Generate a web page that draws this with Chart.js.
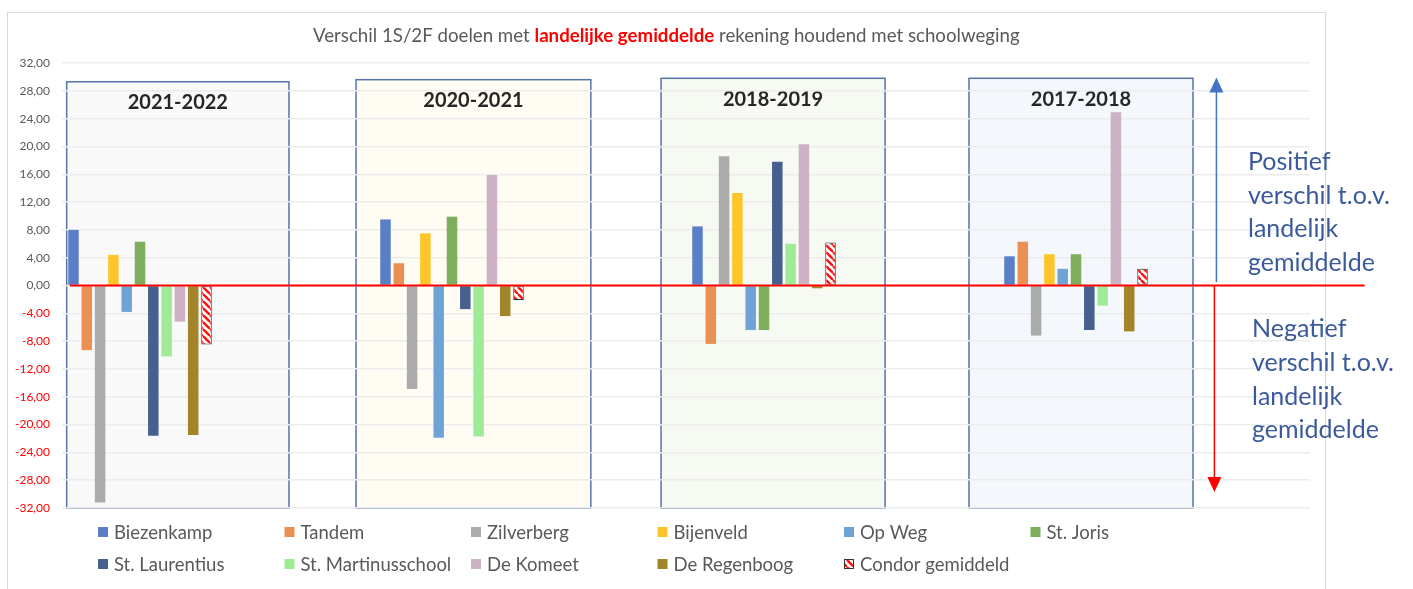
<!DOCTYPE html>
<html>
<head>
<meta charset="utf-8">
<script src="https://cdn.jsdelivr.net/npm/chart.js@4/dist/chart.umd.min.js"></script>
<style>
html,body{margin:0;padding:0;background:#fff;}
#wrap{width:1413px;height:589px;position:relative;}
</style>
</head>
<body>
<div id="wrap"><canvas id="verschilChart"></canvas></div>
<script>

// =========================================
// Data
// =========================================

const years = ["2021-2022", "2020-2021", "2018-2019", "2017-2018"];

const biezenkamp   = [8.0, 9.5, 8.5, 4.2];
const tandem       = [-9.3, 3.2, -8.4, 6.3];
const zilverberg   = [-31.2, -14.9, 18.6, -7.2];
const bijenveld    = [4.4, 7.5, 13.3, 4.5];
const opWeg        = [-3.8, -21.9, -6.4, 2.4];
const stJoris      = [6.3, 9.9, -6.4, 4.5];
const stLaurentius = [-21.6, -3.4, 17.8, -6.4];
const stMartinus   = [-10.2, -21.7, 6.0, -2.9];
const deKomeet     = [-5.2, 15.9, 20.3, 24.9];
const deRegenboog  = [-21.5, -4.4, -0.4, -6.6];
const condor       = [-8.5, -2.1, 6.2, 2.4];

const yTicks = [-32, -28, -24, -20, -16, -12, -8, -4, 0, 4, 8, 12, 16, 20, 24, 28, 32];

const positiefText = ["Positief", "verschil t.o.v.", "landelijk", "gemiddelde"];
const negatiefText = ["Negatief", "verschil t.o.v.", "landelijk", "gemiddelde"];

// =========================================
// Helpers
// =========================================

// every school year gets an empty slot after it, so the bars sit left in the box
const labels = [];
years.forEach(y => { labels.push(y); labels.push(""); });

function spread(values){
    const out = [];
    values.forEach(v => { out.push(v); out.push(null); });
    return out;
}

function stripes(){
    const c = document.createElement("canvas");
    c.width = 7; c.height = 7;
    const g = c.getContext("2d");
    g.fillStyle = "#ffffff";
    g.fillRect(0, 0, 7, 7);
    g.strokeStyle = "#ff1010";
    g.lineWidth = 2.4;
    for (let o = -7; o <= 7; o += 7) {
        g.beginPath();
        g.moveTo(o, 0);
        g.lineTo(o + 7, 7);
        g.stroke();
    }
    return g.createPattern(c, "repeat");
}

function fmt(v){
    return v.toFixed(2).replace(".", ",");
}

const condorFill = stripes();

const series = [
    ["Biezenkamp", biezenkamp, "#5a7fc6"],
    ["Tandem", tandem, "#ea9053"],
    ["Zilverberg", zilverberg, "#ababab"],
    ["Bijenveld", bijenveld, "#fdc52a"],
    ["Op Weg", opWeg, "#6fa3d6"],
    ["St. Joris", stJoris, "#7dae5c"],
    ["St. Laurentius", stLaurentius, "#46618f"],
    ["St. Martinusschool", stMartinus, "#9fea94"],
    ["De Komeet", deKomeet, "#ceb1c4"],
    ["De Regenboog", deRegenboog, "#a2842a"],
];

const datasets = series.map(s => ({
    label: s[0],
    data: spread(s[1]),
    backgroundColor: s[2]
}));

datasets.push({
    label: "Condor gemiddeld",
    data: spread(condor),
    backgroundColor: condorFill,
    borderColor: "#333333",
    borderWidth: 1,
    borderSkipped: false
});

// =========================================
// Decorations
// =========================================

// box per school year: category index, left/right in category units, top value, fill
const boxes = [
    {cat: 0, from: -0.47, to: 0.955, top: 29.3, fill: "#f9f9f9"},
    {cat: 2, from: -0.615, to: 0.89, top: 29.6, fill: "#fffcf3"},
    {cat: 4, from: -0.66, to: 0.776, top: 29.8, fill: "#f7faf3"},
    {cat: 6, from: -0.686, to: 0.75, top: 29.8, fill: "#f4f8fc"}
];

const decorations = {
    id: "decorations",
    beforeDraw(chart){
        const ctx = chart.ctx;
        const x = chart.scales.x;
        const y = chart.scales.y;

        ctx.save();
        ctx.fillStyle = "#ffffff";
        ctx.fillRect(0, 0, chart.width, chart.height);

        // outer frame
        ctx.strokeStyle = "#d9d9d9";
        ctx.lineWidth = 1;
        ctx.strokeRect(7.5, 12.5, 1318, 600);

        // title, three parts, sized to the reference width
        const parts = [
            ["Verschil 1S/2F doelen met ", "#595959", "normal"],
            ["landelijke gemiddelde", "#ff0000", "bold"],
            [" rekening houdend met schoolweging", "#595959", "normal"]
        ];
        let w = 0;
        parts.forEach(p => {
            ctx.font = p[2] + " 15px Lato";
            w += ctx.measureText(p[0]).width;
        });
        const size = 15 * 707 / w;
        let tx = 313;
        ctx.textBaseline = "middle";
        parts.forEach(p => {
            ctx.font = p[2] + " " + size + "px Lato";
            ctx.fillStyle = p[1];
            ctx.fillText(p[0], tx, 36);
            tx += ctx.measureText(p[0]).width;
        });

        // school year boxes
        boxes.forEach((b, i) => {
            const l = x.getPixelForValue(b.cat + b.from);
            const r = x.getPixelForValue(b.cat + b.to);
            const t = y.getPixelForValue(b.top);
            const btm = y.getPixelForValue(-32);
            ctx.fillStyle = b.fill;
            ctx.fillRect(l, t, r - l, btm - t);
            ctx.strokeStyle = "#5673ab";
            ctx.lineWidth = 1.5;
            ctx.strokeRect(l, t, r - l, btm - t);
            ctx.fillStyle = "#262626";
            ctx.font = "bold 20px Lato";
            ctx.textAlign = "center";
            ctx.fillText(years[i], (l + r) / 2, t + 21);
            ctx.textAlign = "left";
        });
        ctx.restore();
    },
    afterDatasetsDraw(chart){
        const ctx = chart.ctx;
        const x = chart.scales.x;
        const y = chart.scales.y;
        const y0 = y.getPixelForValue(0);

        ctx.save();

        // zero line
        ctx.strokeStyle = "#ff0000";
        ctx.lineWidth = 2;
        ctx.beginPath();
        ctx.moveTo(x.getPixelForValue(-0.45), y0);
        ctx.lineTo(x.getPixelForValue(7.85), y0);
        ctx.stroke();

        // arrows
        const ax = x.getPixelForValue(6.9);
        drawArrow(ctx, ax, y.getPixelForValue(0.5), y.getPixelForValue(29.9), "#4472c4");
        drawArrow(ctx, ax - 2, y0, y.getPixelForValue(-29.7), "#ff0000");

        // side notes
        ctx.font = "25px Lato";
        ctx.textBaseline = "middle";
        ctx.fillStyle = "#3a5a9c";
        positiefText.forEach((t, i) => ctx.fillText(t, 1248, 162 + i * 33.5));
        negatiefText.forEach((t, i) => ctx.fillText(t, 1252, 329 + i * 33.8));

        // legend
        chart.data.datasets.forEach((d, i) => {
            const lx = 98 + (i % 6) * 186.5;
            const ly = 532 + Math.floor(i / 6) * 32;
            ctx.fillStyle = d.backgroundColor;
            ctx.fillRect(lx, ly - 5, 10, 10);
            if (d.borderColor) {
                ctx.strokeStyle = d.borderColor;
                ctx.lineWidth = 1;
                ctx.strokeRect(lx + 0.5, ly - 4.5, 9, 9);
            }
            ctx.fillStyle = "#595959";
            ctx.font = "18.5px Lato";
            ctx.fillText(d.label, lx + 16, ly + 1);
        });

        ctx.restore();
    }
};

function drawArrow(ctx, x, yFrom, yTo, color){
    const dir = yTo < yFrom ? 1 : -1;
    ctx.strokeStyle = color;
    ctx.fillStyle = color;
    ctx.lineWidth = 1.5;
    ctx.beginPath();
    ctx.moveTo(x, yFrom);
    ctx.lineTo(x, yTo + dir * 14);
    ctx.stroke();
    ctx.beginPath();
    ctx.moveTo(x, yTo);
    ctx.lineTo(x - 7, yTo + dir * 15);
    ctx.lineTo(x + 7, yTo + dir * 15);
    ctx.closePath();
    ctx.fill();
}

// =========================================
// Chart
// =========================================

new Chart(document.getElementById("verschilChart"), {
    type: "bar",
    data: {
        labels: labels,
        datasets: datasets
    },
    plugins: [decorations],
    options: {
        responsive: true,
        maintainAspectRatio: false,
        animation: false,
        layout: {
            padding: {top: 63, bottom: 81, left: 0, right: 103}
        },
        datasets: {
            bar: {
                categoryPercentage: 0.938,
                barPercentage: 0.79
            }
        },
        plugins: {
            legend: {display: false},
            tooltip: {enabled: false}
        },
        scales: {
            x: {
                display: false
            },
            y: {
                min: -32,
                max: 32,
                afterFit(scale){ scale.width = 62; },
                afterBuildTicks(scale){ scale.ticks = yTicks.map(v => ({value: v})); },
                border: {display: false},
                grid: {
                    color: "#ececec",
                    lineWidth: 1.5,
                    drawTicks: false
                },
                ticks: {
                    padding: 12,
                    font: {family: "Lato", size: 12},
                    color: ctx => ctx.tick.value < 0 ? "#ff0000" : "#595959",
                    callback: v => fmt(v)
                }
            }
        }
    }
});

</script>
</body>
</html>
